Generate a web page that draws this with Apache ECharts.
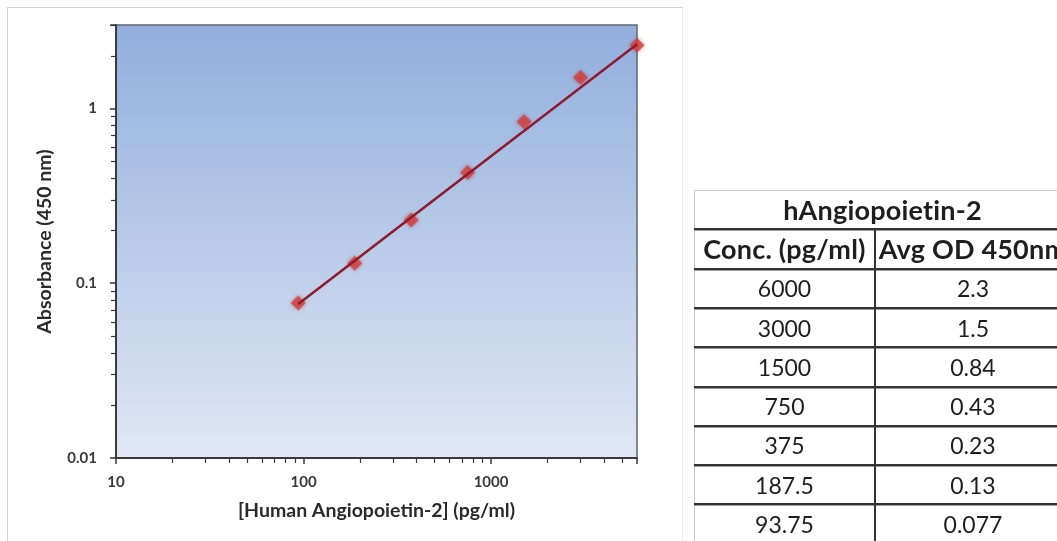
<!DOCTYPE html>
<html>
<head>
<meta charset="utf-8">
<script src="https://cdn.jsdelivr.net/npm/echarts@6/dist/echarts.min.js"></script>
<style>
  html, body { margin: 0; padding: 0; background: #fff; }
  body { width: 1057px; height: 541px; overflow: hidden; position: relative; font-family: Lato, "Open Sans", sans-serif; }
  #frame { position: absolute; left: 7px; top: 7px; width: 676px; height: 545px; border-top: 1.5px solid #d2d2d2; border-left: 1.5px solid #d2d2d2; border-right: 1px solid #ececec; box-sizing: border-box; }
  #chart { position: absolute; left: 0; top: 0; width: 1057px; height: 541px; }
  #table { position: absolute; left: 0; top: 0; width: 1057px; height: 541px; pointer-events: none; }
  .cell { position: absolute; display: flex; align-items: center; justify-content: center; color: #1e1e1e; font-size: 23px; white-space: nowrap; overflow: hidden; }
  .bold { font-weight: bold; font-size: 27px; letter-spacing: 0.2px; }
  .hline { position: absolute; height: 2px; background: #333; box-shadow: 0 1px 0 #9a9a9a; }
  .vline { position: absolute; width: 2px; background: #333; }
</style>
</head>
<body>
<div id="frame"></div>
<div id="chart"></div>
<div id="table"></div>
<script>
// ---- data ----
const concentrations = [6000, 3000, 1500, 750, 375, 187.5, 93.75];
const avgOD = [2.3, 1.5, 0.84, 0.43, 0.23, 0.13, 0.077];
const fitLineX = [93.75, 6000];
const fitLineY = [0.076, 2.33];
const xMajorTicks = [10, 100, 1000];
const xTickLabels = ['10', '100', '1000'];
const xMinorTicks = [20, 30, 40, 50, 60, 70, 80, 90, 200, 300, 400, 500, 600, 700, 800, 900, 2000, 3000, 4000, 5000];
const yMajorTicks = [0.01, 0.1, 1];
const yTickLabels = ['0.01', '0.1', '1'];
const yMinorTicks = [0.02, 0.03, 0.04, 0.05, 0.06, 0.07, 0.08, 0.09, 0.2, 0.3, 0.4, 0.5, 0.6, 0.7, 0.8, 0.9, 2, 3];
const tableTitle = 'hAngiopoietin-2';
const tableHeaders = ['Conc. (pg/ml)', 'Avg OD 450nm'];
const xTitle = '[Human Angiopoietin-2] (pg/ml)';
const yTitle = 'Absorbance (450 nm)';

// ---- chart ----
const FONT = 'Lato, "Open Sans", sans-serif';
function labelFor(ticks, labels) {
  return function (v) {
    const i = ticks.findIndex(t => Math.abs(Math.log10(v) - Math.log10(t)) < 1e-6);
    return i >= 0 ? labels[i] : '';
  };
}
const axisColor = '#3a3a3a';
const chart = echarts.init(document.getElementById('chart'), null, { renderer: 'canvas' });
chart.setOption({
  animation: false,
  grid: {
    left: 116, top: 25, width: 521, height: 433,
    show: true,
    borderColor: '#5d6573', borderWidth: 1.5,
    backgroundColor: new echarts.graphic.LinearGradient(0, 0, 0, 1, [
      { offset: 0, color: '#91aedd' },
      { offset: 1, color: '#e1e7f4' }
    ])
  },
  xAxis: [{
    type: 'log', logBase: 10, min: 10, max: 6000,
    axisLine: { lineStyle: { color: axisColor, width: 2 } },
    axisTick: { length: 6, lineStyle: { color: axisColor, width: 1.5 } },
    axisLabel: { formatter: labelFor(xMajorTicks, xTickLabels), margin: 17, fontFamily: FONT, fontSize: 15, fontWeight: 'bold', color: '#3a3a3a' },
    splitLine: { show: false },
    minorTick: { show: false },
    name: xTitle, nameLocation: 'middle', nameGap: 43,
    nameTextStyle: { fontFamily: FONT, fontSize: 19.5, fontWeight: 'bold', color: '#2a2a2a' }
  }, {
    type: 'log', logBase: 10, min: 10, max: 6000, position: 'bottom',
    axisLine: { show: false },
    axisLabel: { show: false },
    axisTick: { customValues: xMinorTicks, length: 5, lineStyle: { color: axisColor, width: 1.2 } },
    splitLine: { show: false }
  }],
  yAxis: [{
    type: 'log', logBase: 10, min: 0.01, max: 3,
    axisLine: { lineStyle: { color: axisColor, width: 2 } },
    axisTick: { length: 6, lineStyle: { color: axisColor, width: 1.5 } },
    axisLabel: { formatter: labelFor(yMajorTicks, yTickLabels), margin: 19, fontFamily: FONT, fontSize: 15, fontWeight: 'bold', color: '#3a3a3a' },
    splitLine: { show: false },
    name: yTitle, nameLocation: 'middle', nameGap: 61,
    nameTextStyle: { fontFamily: FONT, fontSize: 19.5, fontWeight: 'bold', color: '#2a2a2a' }
  }, {
    type: 'log', logBase: 10, min: 0.01, max: 3, position: 'left',
    axisLine: { show: false },
    axisLabel: { show: false },
    axisTick: { customValues: yMinorTicks, length: 5, lineStyle: { color: axisColor, width: 1.2 } },
    splitLine: { show: false }
  }],
  series: [{
    type: 'scatter',
    xAxisIndex: 0, yAxisIndex: 0,
    data: concentrations.map((c, i) => [c, avgOD[i]]),
    symbol: 'diamond', symbolSize: 15,
    itemStyle: { color: '#d43f3d', shadowBlur: 4, shadowColor: 'rgba(160,20,20,0.55)' },
    z: 2
  }, {
    type: 'line',
    xAxisIndex: 0, yAxisIndex: 0,
    data: fitLineX.map((x, i) => [x, fitLineY[i]]),
    showSymbol: false,
    lineStyle: { color: '#8e1a2d', width: 2.5 },
    z: 3
  }]
});

// ---- table ----
const tbl = document.getElementById('table');
const T = { left: 694, top: 190, c1: 181, c2: 196, rowH: 39.3 };
function cell(text, x, y, w, h, bold) {
  const d = document.createElement('div');
  d.className = 'cell' + (bold ? ' bold' : '');
  d.style.left = x + 'px'; d.style.top = y + 'px';
  d.style.width = w + 'px'; d.style.height = h + 'px';
  d.textContent = text;
  tbl.appendChild(d);
}
function hline(x, y, w) {
  const d = document.createElement('div');
  d.className = 'hline';
  d.style.left = x + 'px'; d.style.top = (y - 1) + 'px'; d.style.width = w + 'px';
  tbl.appendChild(d);
}
function vline(x, y, h) {
  const d = document.createElement('div');
  d.className = 'vline';
  d.style.left = (x - 1) + 'px'; d.style.top = y + 'px'; d.style.height = h + 'px';
  tbl.appendChild(d);
}
const W = T.c1 + T.c2;
const topB = document.createElement('div');
topB.style.cssText = `position:absolute;left:${T.left}px;top:${T.top}px;width:${W}px;height:1px;background:#d0d0d0;`;
tbl.appendChild(topB);
const leftB = document.createElement('div');
leftB.style.cssText = `position:absolute;left:${T.left}px;top:${T.top}px;width:1px;height:400px;background:#c8c8c8;`;
tbl.appendChild(leftB);

cell(tableTitle, T.left, T.top, W, T.rowH, true);
const r1 = T.top + T.rowH;
cell(tableHeaders[0], T.left, r1, T.c1, T.rowH, true);
cell(tableHeaders[1], T.left + T.c1, r1, T.c2, T.rowH, true);
for (let i = 0; i < concentrations.length; i++) {
  const y = T.top + (i + 2) * T.rowH;
  cell(String(concentrations[i]), T.left, y, T.c1, T.rowH, false);
  cell(String(avgOD[i]), T.left + T.c1, y, T.c2, T.rowH, false);
}
for (let i = 1; i <= concentrations.length + 1; i++) {
  hline(T.left, T.top + i * T.rowH, W);
}
vline(T.left + T.c1, r1, 400);
</script>
</body>
</html>
